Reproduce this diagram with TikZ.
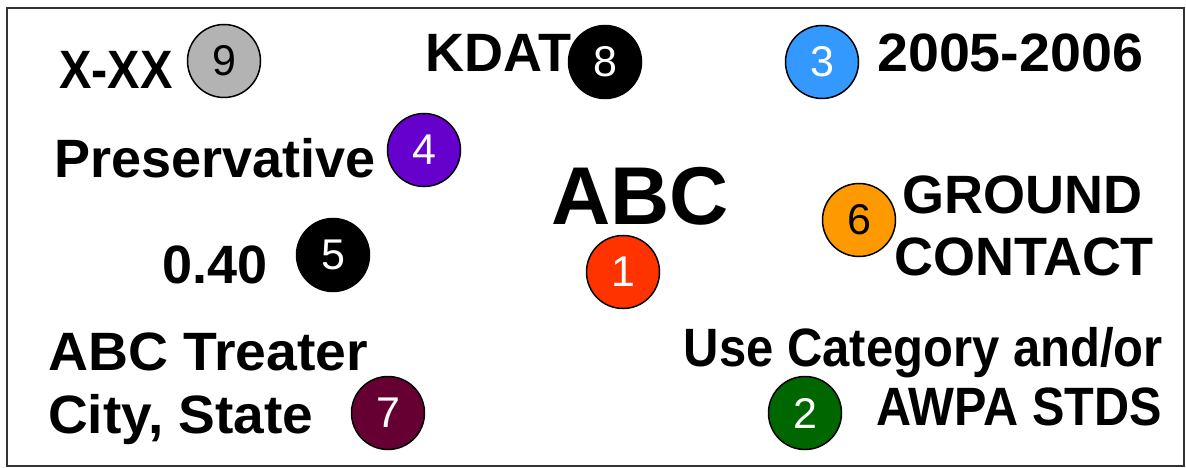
\documentclass[tikz,border=0pt]{standalone}
\usepackage{fontspec}
\setmainfont{Liberation Sans}
\usepackage{graphicx}
\usepackage{tikz}

\definecolor{numgray}{HTML}{B3B3B3}
\definecolor{numblue}{HTML}{3399FF}
\definecolor{numpurple}{HTML}{6600CC}
\definecolor{numred}{HTML}{FF3300}
\definecolor{numorange}{HTML}{FF9900}
\definecolor{nummaroon}{HTML}{660033}
\definecolor{numgreen}{HTML}{006600}

\tikzset{
	lbl/.style={inner sep=0pt, font=\bfseries\fontsize{54}{60}\selectfont},
	num/.style={shape=circle, draw=black, line width=1.5pt, minimum size=73pt, inner sep=0pt, text=white, font=\fontsize{43}{47}\selectfont}
}

\begin{document}
\begin{tikzpicture}[x=1pt, y=-1pt]
	
	\useasboundingbox (0, 0) rectangle (1186, 468);
	\draw[line width=1.6pt, black!80] (7, 8) rectangle (1184, 466);
	
	\node[lbl, anchor=base west] (xxx)   at (59, 89)    {\scalebox{0.9}[1]{X-XX}};
	\node[lbl, anchor=base west] (kdat)  at (425, 72)   {KDAT};
	\node[lbl, anchor=base west] (year)  at (877, 72)   {\scalebox{1.03}[1]{2005-2006}};
	\node[lbl, anchor=base west] (pres)  at (54, 177)   {Preservative};
	\node[lbl, anchor=base, font=\bfseries\fontsize{82}{90}\selectfont] (abc) at (640, 224) {ABC};
	\node[lbl, anchor=base]      (grd)   at (1022, 213) {GROUND};
	\node[lbl, anchor=base]      (cont)  at (1024, 275) {CONTACT};
	\node[lbl, anchor=base west] (ret)   at (162, 283)  {0.40};
	\node[lbl, anchor=base west] (treat) at (48, 370)   {\scalebox{1.025}[1]{ABC Treater}};
	\node[lbl, anchor=base west] (city)  at (48, 433)   {\scalebox{1.02}[1]{City, State}};
	\node[lbl, anchor=base east] (use)   at (1163, 366) {\scalebox{0.907}[1]{Use Category and/or}};
	\node[lbl, anchor=base east] (awpa)  at (1162, 425) {\scalebox{0.9}[1]{AWPA STDS}};
	
	\node[num, fill=numred]                (n1) at (623, 272) {1};
	\node[num, fill=numgreen]              (n2) at (805, 413) {2};
	\node[num, fill=numblue]               (n3) at (822, 62)  {3};
	\node[num, fill=numpurple]             (n4) at (424, 150) {4};
	\node[num, fill=black]                 (n5) at (333, 255) {5};
	\node[num, fill=numorange, text=black] (n6) at (859, 220) {6};
	\node[num, fill=nummaroon]             (n7) at (388, 413) {7};
	\node[num, fill=black]                 (n8) at (605, 62)  {8};
	\node[num, fill=numgray, text=black]   (n9) at (224, 61)  {9};
	
\end{tikzpicture}
\end{document}
